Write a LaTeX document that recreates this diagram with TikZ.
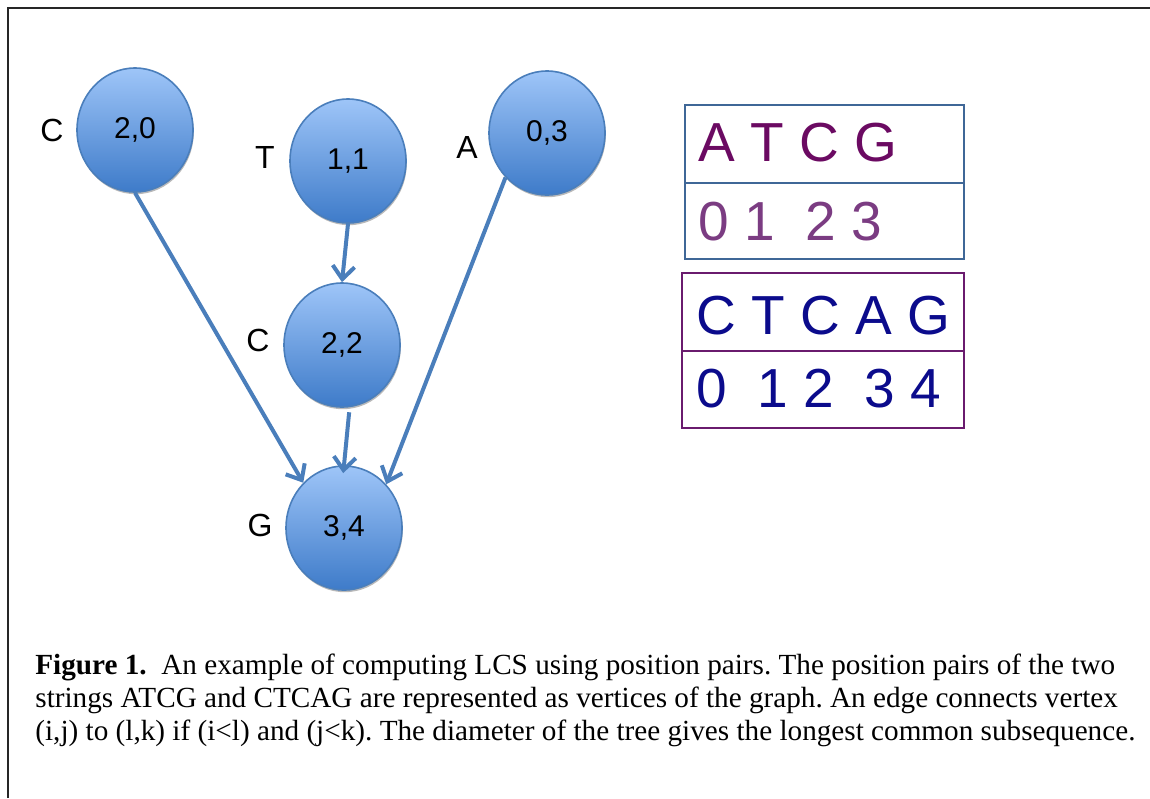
\documentclass[tikz,border=0pt]{standalone}
\usepackage{fontspec}
\setmainfont{Liberation Serif}
\newfontfamily\arial{Liberation Sans}
\usetikzlibrary{arrows.meta,shapes.geometric,shadows}
\definecolor{nodetop}{HTML}{9EC5F8}
\definecolor{nodebot}{HTML}{3E7BC9}
\definecolor{nodeline}{HTML}{4A7EBB}
\definecolor{edgecol}{HTML}{4A7EBB}
\definecolor{boxa}{HTML}{3F6797}
\definecolor{boxb}{HTML}{6A1B6E}
\definecolor{txta}{HTML}{6B0A62}
\definecolor{txtad}{HTML}{7B3C82}
\definecolor{txtb}{HTML}{0B0B8C}
\tikzset{
  vert/.style={ellipse, minimum width=58pt, minimum height=62pt, inner sep=0pt,
    draw=nodeline, line width=0.8pt, top color=nodetop, bottom color=nodebot,
    font=\arial\fontsize{15}{18}\selectfont, text=black,
    drop shadow={opacity=0.55, shadow xshift=0.4pt, shadow yshift=-1.1pt}},
  lbl/.style={font=\arial\fontsize{16}{19}\selectfont, text=black, inner sep=0pt},
  edge/.style={draw=edgecol, line width=2pt, -{Straight Barb[length=6.5pt,width=11pt]}},
  cella/.style={draw=boxa, line width=1pt, rectangle, anchor=north west, minimum width=139.5pt, inner sep=0pt},
  cellb/.style={draw=boxb, line width=1pt, rectangle, anchor=north west, minimum width=141pt, inner sep=0pt},
  boxtxt/.style={anchor=west, inner sep=0pt, font=\arial\fontsize{27.5}{30}\selectfont},
  captxt/.style={anchor=base west, inner sep=0pt, font=\fontsize{14.6}{17}\selectfont\frenchspacing},
}
\begin{document}
\begin{tikzpicture}[x=0.5pt,y=-0.5pt]
\useasboundingbox (0,0) rectangle (1150,798);
% frame
\draw[line width=1.4pt, draw=black!85] (8,798) coordinate (fbl) -- (8,8) coordinate (ftl) -- (1152,8) coordinate (ftr);

% vertices
\node[vert] (n20) at (135,130) {2,0};
\node[vert] (n11) at (348,161) {1,1};
\node[vert] (n03) at (547,133) {0,3};
\node[vert] (n22) at (342,345) {2,2};
\node[vert] (n34) at (344,528) {3,4};

% letters
\node[lbl] (l20) at (52,130) {C};
\node[lbl] (l11) at (265,157) {T};
\node[lbl] (l03) at (467,147) {A};
\node[lbl] (l22) at (258,340) {C};
\node[lbl] (l34) at (260,525) {G};

% edges
\draw[edge] (n20.south) -- (n34.132);
\draw[edge] (n11.south) -- (n22.north);
\draw[edge, shorten <=2.5pt, shorten >=-4pt] (n22.-83) -- (n34.north);
\draw[edge] (n03.227) -- (n34.46);

% string boxes
\node[cella, minimum height=39pt] (a1) at (684,104) {};
\node[cella, minimum height=38pt] (a2) at (684,182) {};
\node[boxtxt, text=txta] (ta1) at (698,143) {A T C G};
\node[boxtxt, text=txtad] (ta2) at (698,222) {0 1\ \ 2 3};

\node[cellb, minimum height=39pt] (b1) at (681,272) {};
\node[cellb, minimum height=38.5pt] (b2) at (681,350) {};
\node[boxtxt, text=txtb] (tb1) at (696,316) {C T C A G};
\node[boxtxt, text=txtb] (tb2) at (696,389) {0\ \ 1 2\ \ 3 4};

% caption
\node[captxt] (c1) at (35,674) {\textbf{Figure 1.}\ \ An example of computing LCS using position pairs. The position pairs of the two};
\node[captxt] (c2) at (35,707) {strings ATCG and CTCAG are represented as vertices of the graph. An edge connects vertex};
\node[captxt] (c3) at (35,740) {(i,j) to (l,k) if (i<l) and (j<k). The diameter of the tree gives the longest common subsequence.};
\end{tikzpicture}
\end{document}
